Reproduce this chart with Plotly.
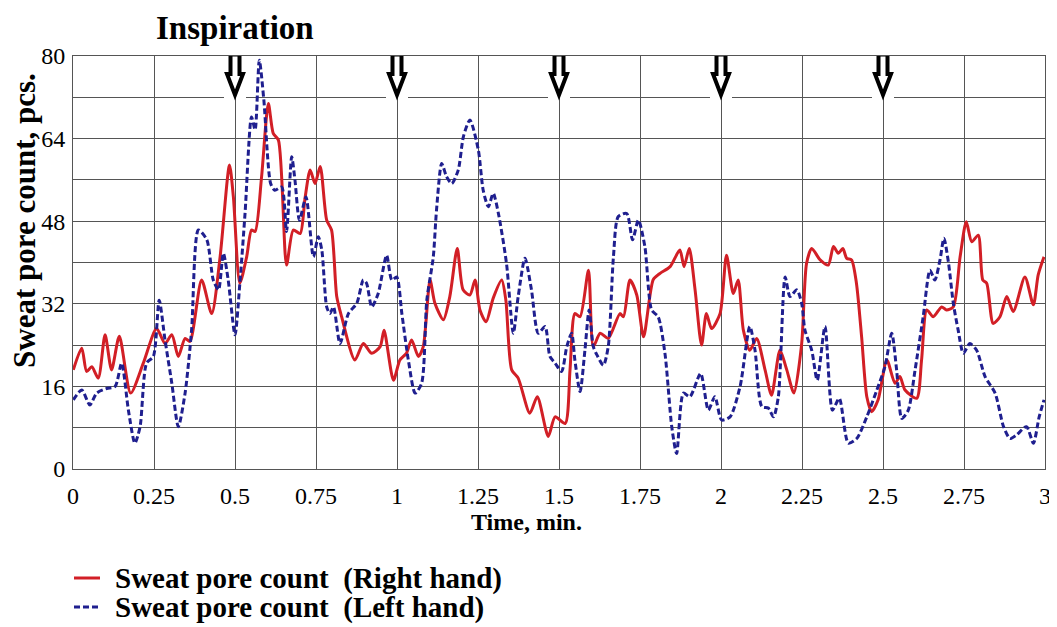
import plotly.graph_objects as go

# ---- data ----
right_t = [0.001,0.027,0.042,0.058,0.078,0.099,0.119,0.143,0.178,0.217,0.258,0.284,0.305,0.325,0.346,0.361,
           0.397,0.428,0.454,0.483,0.495,0.515,0.536,0.551,0.562,0.582,0.603,0.618,0.634,0.659,0.680,0.701,
           0.716,0.732,0.747,0.763,0.783,0.798,0.814,0.829,0.870,0.896,0.922,0.948,0.960,0.989,1.009,1.029,
           1.045,1.066,1.081,1.102,1.117,1.143,1.163,1.186,1.204,1.225,1.241,1.256,1.275,1.297,1.323,1.336,
           1.354,1.374,1.410,1.433,1.467,1.488,1.519,1.534,1.549,1.565,1.591,1.606,1.627,1.652,1.688,1.699,
           1.719,1.740,1.761,1.791,1.812,1.843,1.873,1.886,1.902,1.920,1.940,1.955,1.971,1.997,2.017,2.038,
           2.053,2.069,2.089,2.110,2.136,2.156,2.182,2.203,2.225,2.249,2.264,2.280,2.306,2.331,2.347,2.362,
           2.376,2.388,2.403,2.418,2.434,2.450,2.465,2.485,2.512,2.537,2.552,2.568,2.604,2.619,2.635,2.655,
           2.681,2.696,2.717,2.738,2.757,2.774,2.794,2.808,2.820,2.840,2.861,2.882,2.902,2.938,2.964,2.979,2.997]
right_v = [19.2,23.4,18.9,19.8,17.6,26.0,19.2,25.7,14.7,20.5,27.2,24.3,26.0,21.8,25.3,24.7,
           36.6,30.1,41.1,58.9,52.7,36.0,41.1,46.3,46.0,56.6,70.8,65.0,63.7,39.5,46.3,45.6,
           52.4,57.9,55.3,58.6,48.2,46.3,33.4,29.5,21.1,24.3,22.4,23.7,26.9,17.2,21.1,22.4,
           25.0,21.8,23.7,36.6,32.1,28.9,33.4,42.7,34.7,33.7,36.6,30.8,28.5,33.1,36.6,32.7,
           19.2,17.6,10.8,14.0,6.3,10.1,8.8,19.2,30.1,29.5,38.5,23.7,26.3,25.3,30.1,29.5,
           36.6,33.7,25.6,36.7,37.9,39.2,42.4,39.2,42.7,34.7,24.0,30.1,27.2,30.1,41.4,34.0,
           36.6,26.9,23.0,25.3,19.2,14.3,23.0,19.2,14.7,24.3,39.8,42.7,40.5,39.5,43.1,41.8,
           42.7,40.8,40.5,36.0,25.6,14.0,11.1,13.4,21.1,16.6,17.9,15.3,13.7,21.1,30.8,29.5,
           31.4,30.8,31.4,41.1,47.9,44.0,45.3,36.6,36.0,28.2,29.5,33.4,30.5,37.2,31.8,37.6,41.1]

left_t = [0.001,0.027,0.052,0.073,0.104,0.130,0.150,0.171,0.191,0.207,0.227,0.248,0.266,0.284,0.305,0.325,
          0.346,0.366,0.387,0.413,0.433,0.449,0.464,0.479,0.500,0.515,0.531,0.551,0.562,0.575,0.589,0.610,
          0.623,0.644,0.659,0.675,0.685,0.699,0.719,0.742,0.757,0.768,0.783,0.793,0.804,0.824,0.850,0.876,
          0.896,0.906,0.922,0.942,0.968,0.984,0.999,1.015,1.035,1.056,1.076,1.092,1.112,1.122,1.138,1.153,
          1.169,1.189,1.205,1.225,1.251,1.266,1.282,1.297,1.313,1.338,1.359,1.374,1.395,1.415,1.436,1.457,
          1.472,1.488,1.508,1.524,1.539,1.549,1.565,1.580,1.593,1.606,1.617,1.637,1.652,1.668,1.683,1.709,
          1.727,1.745,1.765,1.786,1.806,1.827,1.848,1.863,1.884,1.904,1.937,1.961,1.981,2.002,2.028,2.059,
          2.089,2.105,2.126,2.146,2.162,2.177,2.198,2.213,2.234,2.249,2.259,2.280,2.297,2.321,2.344,2.365,
          2.393,2.419,2.450,2.481,2.506,2.527,2.542,2.558,2.578,2.599,2.624,2.645,2.660,2.676,2.688,2.702,
          2.717,2.732,2.748,2.768,2.789,2.815,2.846,2.872,2.892,2.912,2.943,2.964,2.982,2.997]
left_v = [13.4,15.3,12.4,14.7,15.6,16.0,20.5,11.4,5.0,8.2,20.5,21.8,32.7,25.0,16.6,8.2,
          14.7,26.9,46.3,44.4,36.6,34.7,41.8,36.6,26.0,36.0,49.5,68.2,65.7,79.2,71.5,55.3,
          54.0,54.6,46.0,60.5,56.0,48.2,52.7,41.1,45.0,42.4,31.4,30.1,31.4,24.3,30.1,32.1,
          36.6,36.0,31.4,34.0,41.4,36.6,37.2,30.1,21.1,14.7,16.6,32.7,41.1,50.2,59.2,56.6,
          55.3,57.9,64.4,67.6,61.8,54.0,50.8,53.4,49.5,39.8,26.3,33.4,40.8,34.7,26.3,27.6,
          21.8,20.5,18.9,23.7,26.3,21.1,15.0,23.0,30.8,23.7,22.1,20.1,23.7,41.1,48.9,49.5,
          44.4,48.2,43.1,30.8,29.5,22.4,8.2,3.0,14.7,14.0,18.5,11.4,14.0,9.5,10.1,16.0,
          27.6,23.0,12.1,11.8,10.1,14.0,37.2,33.4,34.7,32.1,26.9,23.0,17.2,27.6,11.4,13.7,
          5.0,5.9,10.1,15.3,19.8,26.3,19.2,9.8,11.4,19.2,29.5,38.5,36.6,40.5,44.7,40.0,
          32.1,26.9,22.4,24.3,23.0,17.9,14.7,8.2,5.9,6.6,8.2,5.0,10.1,13.4]

series_names = ["Sweat pore count&nbsp;&nbsp;(Right hand)", "Sweat pore count&nbsp;&nbsp;(Left hand)"]
inspiration_times = [0.5, 1.0, 1.5, 2.0, 2.5]
x_ticks = [0, 0.25, 0.5, 0.75, 1, 1.25, 1.5, 1.75, 2, 2.25, 2.5, 2.75, 3]
x_labels = ["0", "0.25", "0.5", "0.75", "1", "1.25", "1.5", "1.75", "2", "2.25", "2.5", "2.75", "3"]
y_ticks = [0, 16, 32, 48, 64, 80]

SERIF = "Liberation Serif, Times New Roman, serif"
RED = "#d21f26"
BLUE = "#1f1f8f"
GRID = "#555555"
DASH = "6px,3px"

# page is shown with the browser's 8px body margin; plot area on page: x 73..1045, y 56..469
PW, PH = 972.0, 413.0


def px(xp):
    return (xp - 73) / PW


def py(yp):
    return (469 - yp) / PH


fig = go.Figure()
fig.add_trace(go.Scatter(
    x=right_t, y=right_v, mode="lines", name=series_names[0], showlegend=False,
    line=dict(color=RED, width=3, shape="spline", smoothing=0.7)))
fig.add_trace(go.Scatter(
    x=left_t, y=left_v, mode="lines", name=series_names[1], showlegend=False,
    line=dict(color=BLUE, width=3, dash=DASH, shape="spline", smoothing=0.7)))

# inspiration arrows (hollow block arrows) with a white gap in the gridlines
for t in inspiration_times:
    fig.add_shape(type="rect", xref="x", yref="y", xsizemode="pixel", ysizemode="pixel",
                  xanchor=t, yanchor=80, x0=-11, x1=11, y0=-42, y1=4,
                  fillcolor="white", line=dict(width=0), layer="above")
    fig.add_shape(type="path", xref="x", yref="y", xsizemode="pixel", ysizemode="pixel",
                  xanchor=t, yanchor=80,
                  path="M -4.5,1.5 L 4.5,1.5 L 4.5,-18 L 8,-18 L 0,-39 L -8,-18 L -4.5,-18 Z",
                  fillcolor="white", line=dict(color="black", width=4), layer="above")

# manual legend (sample lines + real text)
legend_rows = [(578, RED, "solid"), (607, BLUE, DASH)]
for (yp, col, dash), name in zip(legend_rows, series_names):
    fig.add_shape(type="line", xref="paper", yref="paper", x0=px(74), x1=px(100),
                  y0=py(yp), y1=py(yp), line=dict(color=col, width=3, dash=dash))
    fig.add_annotation(text="<b>" + name + "</b>", xref="paper", yref="paper",
                       x=px(113), y=py(yp), xanchor="left", yanchor="middle", showarrow=False,
                       font=dict(family=SERIF, size=29, color="black"))

fig.add_annotation(text="<b>Inspiration</b>", xref="paper", yref="paper",
                   x=px(235), y=py(28), xanchor="center", yanchor="middle",
                   showarrow=False, font=dict(family=SERIF, size=33, color="black"))
fig.add_annotation(text="<b>Sweat pore count, pcs.</b>", xref="paper", yref="paper",
                   x=px(25), y=py(221), xanchor="center", yanchor="middle",
                   textangle=-90, showarrow=False, font=dict(family=SERIF, size=31, color="black"))
fig.add_annotation(text="<b>Time, min.</b>", xref="paper", yref="paper",
                   x=px(526), y=py(522), xanchor="center", yanchor="middle",
                   showarrow=False, font=dict(family=SERIF, size=24, color="black"))

fig.update_layout(
    width=1049, height=619,
    margin=dict(l=65, r=12, t=48, b=158, autoexpand=False),
    plot_bgcolor="white", paper_bgcolor="white",
    showlegend=False,
    font=dict(family=SERIF, color="black"),
)
fig.update_xaxes(range=[0, 3], tickvals=x_ticks, ticktext=x_labels, automargin=False,
                 showgrid=True, gridcolor=GRID, gridwidth=1,
                 showline=True, linecolor=GRID, linewidth=1, mirror=True,
                 zeroline=False, ticks="", ticklabelstandoff=5,
                 tickfont=dict(family=SERIF, size=24, color="black"))
fig.update_yaxes(range=[0, 80], tickvals=y_ticks, automargin=False,
                 showgrid=True, gridcolor=GRID, gridwidth=1,
                 minor=dict(dtick=8, showgrid=True, gridcolor=GRID, gridwidth=1),
                 showline=True, linecolor=GRID, linewidth=1, mirror=True,
                 zeroline=False, ticks="", ticklabelstandoff=2,
                 tickfont=dict(family=SERIF, size=24, color="black"))

fig.write_html("out.html")
